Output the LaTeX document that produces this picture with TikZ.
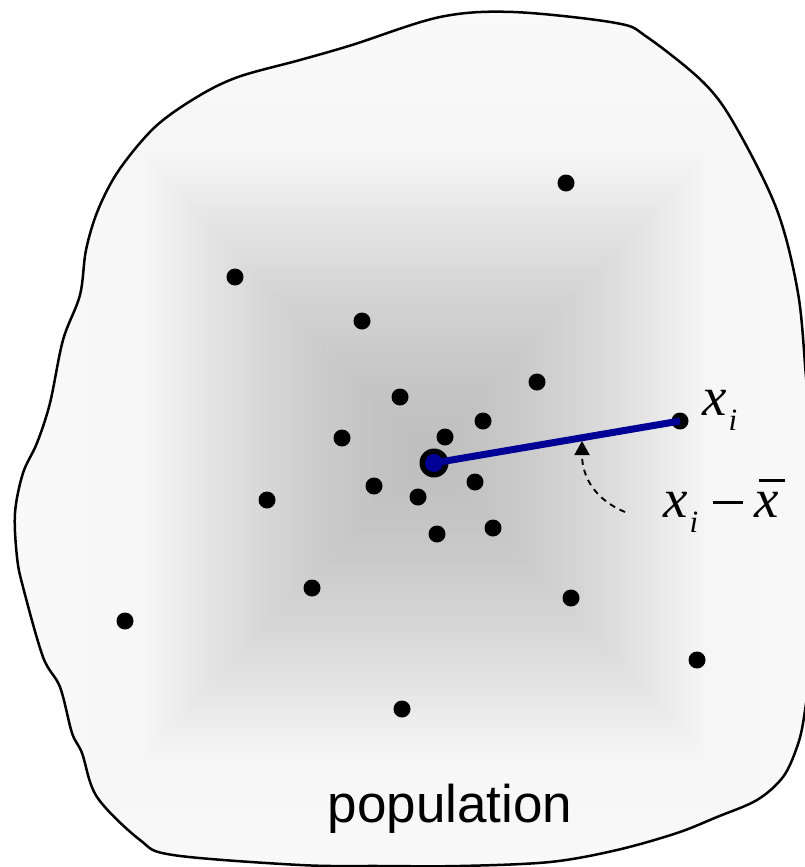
\documentclass[tikz,border=0pt]{standalone}
\usepackage{fontspec}
\setmainfont{Liberation Serif}
\newfontfamily\popfont{Liberation Sans}
\usetikzlibrary{arrows.meta}
\definecolor{meanblue}{RGB}{0,0,150}
\pgfdeclarefunctionalshading{boxshade}{\pgfpoint{-440bp}{-460bp}}{\pgfpoint{440bp}{460bp}}{}{
  abs 300 div exch abs 280 div
  2 copy lt {exch} if pop
  dup 1 gt {1 sub 1.2 mul dup 1 gt {pop 1} if 0.025 mul 0.965 add}{dup sqrt mul 0.215 mul 0.75 add} ifelse
  dup dup
}
\newcommand{\bigx}{\textit{x}}
\newcommand{\subi}{\kern2pt\raisebox{-15pt}{\fontsize{31}{31}\selectfont\textit{i}}}
\newcommand{\xbarglyph}{\rlap{\hspace{5pt}\rule[35pt]{26pt}{2.6pt}}\textit{x}}
\tikzset{
  dot/.style={circle,fill=black,inner sep=0pt,outer sep=0pt,minimum size=17pt},
  mathlabel/.style={anchor=base west,inner sep=0pt,font=\fontsize{55}{60}\selectfont},
  blobline/.style={draw=black,line width=2.5pt},
}
\def\blobpath{plot[smooth cycle,tension=0.55] coordinates {
 (513,12) (616,23) (647,37) (704,83) (736,127) (777,210) (798,293) (806,377)
 (812,450) (815,550) (812,650) (804,717) (797,747) (783,777) (757,800) (717,817)
 (677,833) (617,850) (550,862) (460,866) (380,866) (300,865) (173,855) (140,840)
 (97,797) (82,753) (72,733) (60,687) (43,657) (23,587) (17,557) (15,513) (23,473)
 (37,443) (50,403) (63,340) (80,295) (86,250) (98,210) (119,170) (155,127) (197,97)
 (238,77) (300,60) (352,45) (440,17)}}
\begin{document}
\begin{tikzpicture}[x=1pt,y=-1pt]
\useasboundingbox (0,0) rectangle (804,867);
\fill[white] (0,0) rectangle (804,867);
\begin{scope}
  \clip \blobpath;
  \node[inner sep=0pt,outer sep=0pt] (shade) at (425,455) {\pgfuseshading{boxshade}};
\end{scope}
\draw[blobline] \blobpath;

% data points
\node[dot] (p1) at (566,183) {};
\node[dot] (p2) at (235,277) {};
\node[dot] (p3) at (362,321) {};
\node[dot] (p4) at (537,382) {};
\node[dot] (p5) at (400,397) {};
\node[dot] (p6) at (483,421) {};
\node[dot] (p7) at (342,438) {};
\node[dot] (p8) at (445,437) {};
\node[dot] (p9) at (374,486) {};
\node[dot] (p10) at (418,497) {};
\node[dot] (p11) at (475,482) {};
\node[dot] (p12) at (267,500) {};
\node[dot] (p13) at (437,534) {};
\node[dot] (p14) at (493,528) {};
\node[dot] (p15) at (312,588) {};
\node[dot] (p16) at (571,598) {};
\node[dot] (p17) at (125,621) {};
\node[dot] (p18) at (697,660) {};
\node[dot] (p19) at (402,709) {};
\node[dot] (xi) at (680,421) {};

% mean
\node[circle,fill=black,inner sep=0pt,minimum size=29pt] (ring) at (434,463) {};
\node[circle,fill=meanblue,inner sep=0pt,minimum size=18pt] (mean) at (434,463) {};
\draw[meanblue,line width=7pt] (mean.center) -- (xi.center);

% dashed arrow
\coordinate (tail) at (625,512);
\coordinate (tip) at (582,441);
\draw[line width=1.9pt,dash pattern=on 6pt off 5pt,-{Triangle[length=14pt,width=15pt]}]
  (tail) .. controls (596,500) and (582,478) .. (tip);

% labels
\node[mathlabel] (lxi) at (702,415) {\bigx\subi};
\node[mathlabel] (ldiff) at (663,517) {\bigx\subi\kern15pt\rule[13pt]{30pt}{2.8pt}\kern11pt\xbarglyph};
\node[anchor=base,inner sep=0pt,font=\popfont\fontsize{53}{60}\selectfont] (pop) at (450,822) {population};
\end{tikzpicture}
\end{document}
